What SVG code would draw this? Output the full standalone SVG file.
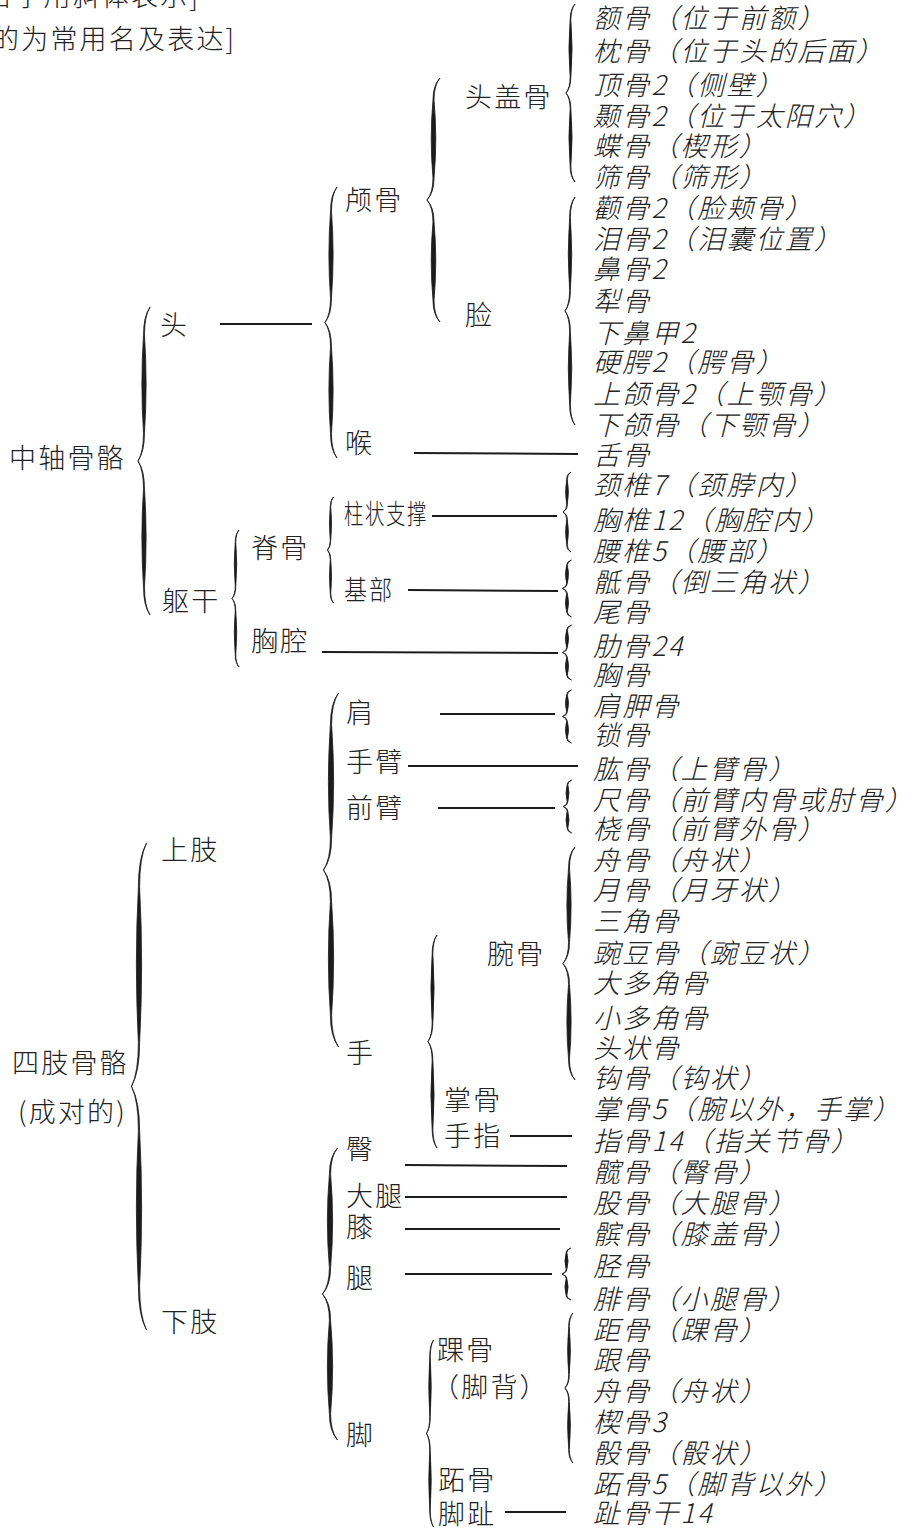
<svg xmlns="http://www.w3.org/2000/svg" xmlns:xlink="http://www.w3.org/1999/xlink" width="907" height="1528" viewBox="0 0 907 1528">
<style>
.t{font-family:"Noto Sans CJK SC","Noto Sans CJK JP",sans-serif;font-size:27px;font-weight:300;fill:#222222;letter-spacing:2.2px}
.r{font-style:italic}
.ln{stroke:#1c1c1c;stroke-width:2;fill:none}
.br{fill:#1c1c1c;stroke:#1c1c1c;stroke-width:0.8;vector-effect:non-scaling-stroke}
</style>
<defs>
<path id="brace" class="br" d="M5,-100 Q-0.4,-94 -0.4,-82 Q-3.1,-50 -0.4,-18 Q-0.4,-6 -5,0 Q0.4,-6 0.4,-18 Q3.1,-50 0.4,-82 Q0.4,-94 5,-100 Z M-5,0 Q-0.4,6 -0.4,18 Q-3.1,50 -0.4,82 Q-0.4,94 5,100 Q0.4,94 0.4,82 Q3.1,50 0.4,18 Q0.4,6 -5,0 Z"/>
</defs>
<rect width="907" height="1528" fill="#ffffff"/>

<g id="notes">
<text class="t" x="-15" y="6">名字用斜体表示]</text>
<text class="t" x="-8" y="49">的为常用名及表达]</text>
</g>

<g id="connectors">
<use xlink:href="#brace" transform="translate(144,461) scale(1.2,1.54)"/>
<use xlink:href="#brace" transform="translate(331,322.5) scale(1.2,1.355)"/>
<use xlink:href="#brace" transform="translate(433.5,200) scale(1.3,1.22)"/>
<use xlink:href="#brace" transform="translate(570.5,93) scale(0.9,0.89)"/>
<use xlink:href="#brace" transform="translate(570,311) scale(1.0,1.14)"/>
<use xlink:href="#brace" transform="translate(235.5,598.5) scale(0.7,0.685)"/>
<use xlink:href="#brace" transform="translate(330.5,550) scale(0.6,0.53)"/>
<use xlink:href="#brace" transform="translate(567,512) scale(0.8,0.4)"/>
<use xlink:href="#brace" transform="translate(567,588.5) scale(0.9,0.285)"/>
<use xlink:href="#brace" transform="translate(567,652.5) scale(0.9,0.275)"/>
<use xlink:href="#brace" transform="translate(567,716.5) scale(0.9,0.265)"/>
<use xlink:href="#brace" transform="translate(567.5,806.5) scale(0.85,0.265)"/>
<use xlink:href="#brace" transform="translate(569,963.5) scale(1.2,1.165)"/>
<use xlink:href="#brace" transform="translate(331,870) scale(1.5,1.77)"/>
<use xlink:href="#brace" transform="translate(432.5,1041.5) scale(0.9,1.065)"/>
<use xlink:href="#brace" transform="translate(139,1086.5) scale(1.5,2.435)"/>
<use xlink:href="#brace" transform="translate(330,1294) scale(1.5,1.46)"/>
<use xlink:href="#brace" transform="translate(566.5,1274) scale(0.9,0.26)"/>
<use xlink:href="#brace" transform="translate(569,1388) scale(0.8,0.75)"/>
<use xlink:href="#brace" transform="translate(430,1433.5) scale(0.7,0.935)"/>
<line class="ln" x1="220" y1="324" x2="312" y2="324"/>
<line class="ln" x1="414" y1="453" x2="578" y2="454"/>
<line class="ln" x1="432" y1="516" x2="557" y2="516"/>
<line class="ln" x1="408" y1="590" x2="558" y2="591"/>
<line class="ln" x1="322" y1="652" x2="558" y2="653"/>
<line class="ln" x1="440" y1="714" x2="555" y2="714"/>
<line class="ln" x1="408" y1="766" x2="578" y2="766"/>
<line class="ln" x1="438" y1="808" x2="555" y2="808"/>
<line class="ln" x1="510" y1="1136" x2="572" y2="1136"/>
<line class="ln" x1="405" y1="1165" x2="567" y2="1166"/>
<line class="ln" x1="405" y1="1197" x2="567" y2="1197"/>
<line class="ln" x1="405" y1="1229" x2="560" y2="1229"/>
<line class="ln" x1="405" y1="1274" x2="552" y2="1274"/>
<line class="ln" x1="505" y1="1512" x2="566" y2="1512"/>
</g>

<g id="axial"><text class="t" x="9" y="468">中轴骨骼</text></g>
<g id="limbs"><text class="t" x="12" y="1073">四肢骨骼</text><text class="t" x="18" y="1122">(成对的)</text></g>
<g id="head"><text class="t" x="160" y="335">头</text></g>
<g id="trunk"><text class="t" x="162" y="611">躯干</text></g>
<g id="upper-limb"><text class="t" x="161" y="860">上肢</text></g>
<g id="lower-limb"><text class="t" x="161" y="1332">下肢</text></g>
<g id="skull"><text class="t" x="345" y="210">颅骨</text></g>
<g id="throat"><text class="t" x="345" y="453">喉</text></g>
<g id="spine"><text class="t" x="251" y="558">脊骨</text></g>
<g id="thorax"><text class="t" x="251" y="651">胸腔</text></g>
<g id="column"><text class="t" x="344" y="524" textLength="84" lengthAdjust="spacingAndGlyphs">柱状支撑</text></g>
<g id="base"><text class="t" x="344" y="600" textLength="50" lengthAdjust="spacingAndGlyphs">基部</text></g>
<g id="cranium"><text class="t" x="465" y="107">头盖骨</text></g>
<g id="face"><text class="t" x="465" y="325">脸</text></g>
<g id="shoulder"><text class="t" x="346" y="723">肩</text></g>
<g id="arm"><text class="t" x="346" y="772">手臂</text></g>
<g id="forearm"><text class="t" x="346" y="818">前臂</text></g>
<g id="hand"><text class="t" x="346" y="1063">手</text></g>
<g id="carpus"><text class="t" x="487" y="964">腕骨</text></g>
<g id="metacarpus"><text class="t" x="444" y="1110">掌骨</text></g>
<g id="fingers"><text class="t" x="444" y="1146">手指</text></g>
<g id="hip"><text class="t" x="346" y="1159">臀</text></g>
<g id="thigh"><text class="t" x="346" y="1206">大腿</text></g>
<g id="knee"><text class="t" x="346" y="1237">膝</text></g>
<g id="leg"><text class="t" x="346" y="1288">腿</text></g>
<g id="foot"><text class="t" x="346" y="1445">脚</text></g>
<g id="tarsus"><text class="t" x="437" y="1360">踝骨</text><text class="t" x="432" y="1397">（脚背）</text></g>
<g id="metatarsus"><text class="t" x="438" y="1490">跖骨</text></g>
<g id="toes"><text class="t" x="438" y="1524">脚趾</text></g>

<g id="bones">
<g id="b01"><text class="t r" x="593" y="27.5">额骨（位于前额）</text></g>
<g id="b02"><text class="t r" x="593" y="61">枕骨（位于头的后面）</text></g>
<g id="b03"><text class="t r" x="593" y="94.5">顶骨2（侧壁）</text></g>
<g id="b04"><text class="t r" x="593" y="126">颞骨2（位于太阳穴）</text></g>
<g id="b05"><text class="t r" x="593" y="156">蝶骨（楔形）</text></g>
<g id="b06"><text class="t r" x="593" y="187">筛骨（筛形）</text></g>
<g id="b07"><text class="t r" x="593" y="218">颧骨2（脸颊骨）</text></g>
<g id="b08"><text class="t r" x="593" y="249">泪骨2（泪囊位置）</text></g>
<g id="b09"><text class="t r" x="593" y="278.5">鼻骨2</text></g>
<g id="b10"><text class="t r" x="593" y="311">犁骨</text></g>
<g id="b11"><text class="t r" x="593" y="343">下鼻甲2</text></g>
<g id="b12"><text class="t r" x="593" y="372">硬腭2（腭骨）</text></g>
<g id="b13"><text class="t r" x="593" y="404">上颌骨2（上颚骨）</text></g>
<g id="b14"><text class="t r" x="593" y="435">下颌骨（下颚骨）</text></g>
<g id="b15"><text class="t r" x="593" y="465">舌骨</text></g>
<g id="b16"><text class="t r" x="593" y="495">颈椎7（颈脖内）</text></g>
<g id="b17"><text class="t r" x="593" y="530">胸椎12（胸腔内）</text></g>
<g id="b18"><text class="t r" x="593" y="561">腰椎5（腰部）</text></g>
<g id="b19"><text class="t r" x="593" y="592">骶骨（倒三角状）</text></g>
<g id="b20"><text class="t r" x="593" y="622">尾骨</text></g>
<g id="b21"><text class="t r" x="593" y="656">肋骨24</text></g>
<g id="b22"><text class="t r" x="593" y="685">胸骨</text></g>
<g id="b23"><text class="t r" x="593" y="716">肩胛骨</text></g>
<g id="b24"><text class="t r" x="593" y="745">锁骨</text></g>
<g id="b25"><text class="t r" x="593" y="779">肱骨（上臂骨）</text></g>
<g id="b26"><text class="t r" x="593" y="810">尺骨（前臂内骨或肘骨）</text></g>
<g id="b27"><text class="t r" x="593" y="839">桡骨（前臂外骨）</text></g>
<g id="b28"><text class="t r" x="593" y="870">舟骨（舟状）</text></g>
<g id="b29"><text class="t r" x="593" y="900">月骨（月牙状）</text></g>
<g id="b30"><text class="t r" x="593" y="931">三角骨</text></g>
<g id="b31"><text class="t r" x="593" y="963">豌豆骨（豌豆状）</text></g>
<g id="b32"><text class="t r" x="593" y="993">大多角骨</text></g>
<g id="b33"><text class="t r" x="593" y="1028">小多角骨</text></g>
<g id="b34"><text class="t r" x="593" y="1058">头状骨</text></g>
<g id="b35"><text class="t r" x="593" y="1088">钩骨（钩状）</text></g>
<g id="b36"><text class="t r" x="593" y="1119">掌骨5（腕以外，手掌）</text></g>
<g id="b37"><text class="t r" x="593" y="1151">指骨14（指关节骨）</text></g>
<g id="b38"><text class="t r" x="593" y="1182">髋骨（臀骨）</text></g>
<g id="b39"><text class="t r" x="593" y="1213">股骨（大腿骨）</text></g>
<g id="b40"><text class="t r" x="593" y="1244">髌骨（膝盖骨）</text></g>
<g id="b41"><text class="t r" x="593" y="1276">胫骨</text></g>
<g id="b42"><text class="t r" x="593" y="1309">腓骨（小腿骨）</text></g>
<g id="b43"><text class="t r" x="593" y="1340">距骨（踝骨）</text></g>
<g id="b44"><text class="t r" x="593" y="1370">跟骨</text></g>
<g id="b45"><text class="t r" x="593" y="1401">舟骨（舟状）</text></g>
<g id="b46"><text class="t r" x="593" y="1432">楔骨3</text></g>
<g id="b47"><text class="t r" x="593" y="1463">骰骨（骰状）</text></g>
<g id="b48"><text class="t r" x="593" y="1494">跖骨5（脚背以外）</text></g>
<g id="b49"><text class="t r" x="593" y="1523">趾骨干14</text></g>
</g>
</svg>
